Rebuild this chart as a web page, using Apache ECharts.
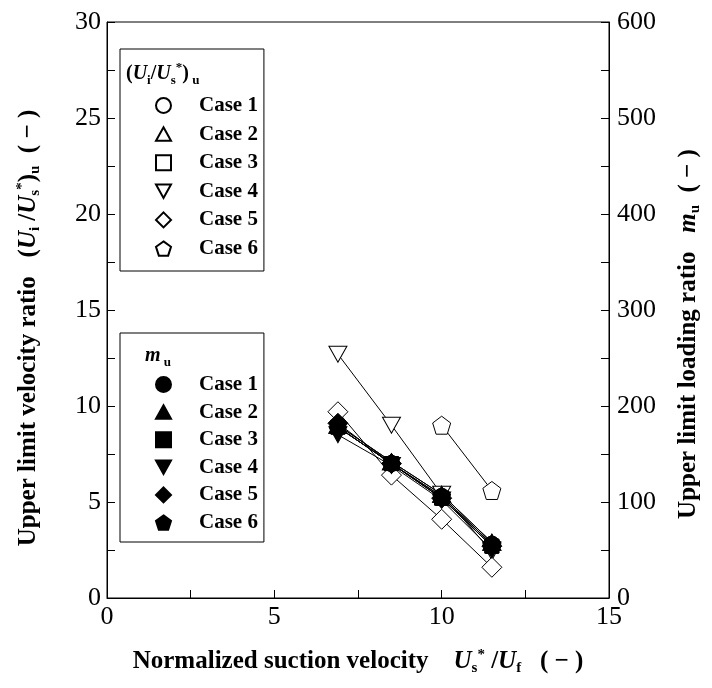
<!DOCTYPE html>
<html>
<head>
<meta charset="utf-8">
<script src="https://cdn.jsdelivr.net/npm/echarts@6/dist/echarts.min.js"></script>
<style>html,body{margin:0;padding:0;background:#fff}#c{width:712px;height:688px}</style>
</head>
<body>
<div id="c"></div>
<script>
// ---- data ----
const xVals = [6.9, 8.5, 10, 11.5];
const caseNames = ['Case 1', 'Case 2', 'Case 3', 'Case 4', 'Case 5', 'Case 6'];
// (Ui/Us*)u, left axis
const ratio1 = [8.9, 7.0, 5.3, 2.8];
const ratio2 = [9.0, 7.1, 5.4, 2.9];
const ratio3 = [8.9, 7.0, 5.2, 2.7];
const ratio4 = [12.7, 9.0, 5.4, 2.4];
const ratio5 = [9.7, 6.4, 4.1, 1.6];
const ratio6 = [null, null, 9.0, 5.6];
// m_u, right axis
const load1 = [178, 140, 106, 56];
const load2 = [180, 142, 108, 58];
const load3 = [178, 140, 104, 54];
const load4 = [170, 138, 102, 50];
const load5 = [182, 140, 104, 54];
const load6 = [null, null, 106, 56];
const xTicks = [0, 5, 10, 15];
const yTicks = [0, 5, 10, 15, 20, 25, 30];
const y2Ticks = [0, 100, 200, 300, 400, 500, 600];

const ratioSets = [ratio1, ratio2, ratio3, ratio4, ratio5, ratio6];
const loadSets = [load1, load2, load3, load4, load5, load6];

const symbols = [
  'circle',
  'path://M5,0L10,9L0,9Z',
  'path://M0,0L10,0L10,10L0,10Z',
  'path://M0,0L10,0L5,9Z',
  'path://M5,0L10,5L5,10L0,5Z',
  'path://M5,0L10,3.6L8.1,9.5L1.9,9.5L0,3.6Z'
];
const sizes = [16, [18, 16], 14, [18, 16], 20, 18];

const FONT = 'Liberation Serif';
const base = {fontFamily: FONT, fontWeight: 'bold', color: '#000'};
const rich = {
  n: Object.assign({}, base, {fontSize: 25, lineHeight: 28}),
  i: Object.assign({}, base, {fontSize: 25, lineHeight: 28, fontStyle: 'italic'}),
  sub: Object.assign({}, base, {fontSize: 15, lineHeight: 14, verticalAlign: 'bottom'}),
  sup: Object.assign({}, base, {fontSize: 15, lineHeight: 14, verticalAlign: 'top'})
};
const richL = {
  n: Object.assign({}, base, {fontSize: 20, lineHeight: 26}),
  i: Object.assign({}, base, {fontSize: 20, lineHeight: 26, fontStyle: 'italic'}),
  sub: Object.assign({}, base, {fontSize: 13, lineHeight: 12, verticalAlign: 'bottom'}),
  sup: Object.assign({}, base, {fontSize: 13, lineHeight: 12, verticalAlign: 'top'})
};

function pairs(arr) {
  const out = [];
  arr.forEach((v, i) => { if (v !== null) out.push([xVals[i], v]); });
  return out;
}

const series = [];
caseNames.forEach((nm, k) => {
  series.push({
    name: nm,
    type: 'line',
    yAxisIndex: 0,
    data: pairs(ratioSets[k]),
    symbol: symbols[k],
    symbolSize: sizes[k],
    showSymbol: true,
    itemStyle: {color: '#fff', borderColor: '#000', borderWidth: 1},
    lineStyle: {color: '#000', width: 1},
    z: 2
  });
});
caseNames.forEach((nm, k) => {
  series.push({
    name: nm + '\u200B',
    type: 'line',
    yAxisIndex: 1,
    data: pairs(loadSets[k]),
    symbol: symbols[k],
    symbolSize: sizes[k],
    showSymbol: true,
    itemStyle: {color: '#000', borderColor: '#000', borderWidth: 1},
    lineStyle: {color: '#000', width: 1},
    z: 3
  });
});

const legendText = {fontFamily: FONT, fontWeight: 'bold', fontSize: 21, lineHeight: 20, color: '#000', padding: [0, 0, 0, 23]};
function legendData(suffix) {
  return caseNames.map((nm, k) => ({name: nm + suffix, icon: symbols[k]}));
}

const chart = echarts.init(document.getElementById('c'), null, {renderer: 'canvas'});
chart.setOption({
  animation: false,
  backgroundColor: '#fff',
  grid: {left: 107, right: 103, top: 22, bottom: 90, show: true, borderColor: '#000', borderWidth: 1, backgroundColor: 'transparent'},
  title: [
    {text: '{n|(}{i|U}{sub|i}{n|/}{i|U}{sub|s}{sup|*}{n|)}{sub| u}', left: 126, top: 61, padding: 0, textStyle: {rich: richL}},
    {text: '{i|m}{sub| u}', left: 145, top: 343, padding: 0, textStyle: {rich: richL}}
  ],
  legend: [
    {
      orient: 'vertical', left: 120, top: 49,
      padding: [46, 6, 12, 35],
      itemWidth: 15, itemHeight: 15, itemGap: 7.6,
      borderColor: '#000', borderWidth: 1,
      selectedMode: false,
      data: legendData(''),
      textStyle: legendText,
      formatter: n => n.replace('\u200B', '')
    },
    {
      orient: 'vertical', left: 120, top: 333,
      padding: [41, 6, 9, 35],
      itemWidth: 15, itemHeight: 15, itemGap: 6.6,
      borderColor: '#000', borderWidth: 1,
      selectedMode: false,
      data: legendData('\u200B'),
      textStyle: legendText,
      formatter: n => n.replace('\u200B', '')
    }
  ],
  xAxis: {
    type: 'value', min: 0, max: 15, interval: 2.5,
    axisLine: {lineStyle: {color: '#000', width: 1}},
    axisTick: {inside: true, length: 8, lineStyle: {color: '#000'}},
    splitLine: {show: false},
    axisLabel: {
      color: '#000', fontFamily: FONT, fontSize: 26, margin: 6,
      formatter: v => xTicks.indexOf(v) >= 0 ? String(v) : ''
    },
    name: '{n|Normalized suction velocity    }{i|U}{sub|s}{sup|*}{n| /}{i|U}{sub|f}{n|   ( − )}',
    nameLocation: 'middle', nameGap: 50,
    nameTextStyle: {rich: rich, fontFamily: FONT, fontWeight: 'bold', fontSize: 25}
  },
  yAxis: [
    {
      type: 'value', min: 0, max: 30, interval: 2.5, position: 'left',
      axisLine: {show: true, lineStyle: {color: '#000', width: 1}},
      axisTick: {show: true, inside: true, length: 8, lineStyle: {color: '#000'}},
      splitLine: {show: false},
      axisLabel: {
        color: '#000', fontFamily: FONT, fontSize: 26, margin: 6,
        formatter: v => yTicks.indexOf(v) >= 0 ? String(v) : ''
      },
      name: '{n|Upper limit velocity ratio   (}{i|U}{sub|i}{n| /}{i|U}{sub|s}{sup|*}{n|)}{sub|u}{n|  ( − )}',
      nameLocation: 'middle', nameGap: 64, nameRotate: 90,
      nameTextStyle: {rich: rich, fontFamily: FONT, fontWeight: 'bold', fontSize: 25, padding: [0, 36, 0, 0]}
    },
    {
      type: 'value', min: 0, max: 600, interval: 50, position: 'right',
      axisLine: {show: true, lineStyle: {color: '#000', width: 1}},
      axisTick: {show: true, inside: true, length: 8, lineStyle: {color: '#000'}},
      splitLine: {show: false},
      axisLabel: {
        color: '#000', fontFamily: FONT, fontSize: 26, margin: 8,
        formatter: v => y2Ticks.indexOf(v) >= 0 ? String(v) : ''
      },
      name: '{n|Upper limit loading ratio   }{i|m}{sub|u}{n|  ( − )}',
      nameLocation: 'middle', nameGap: 66, nameRotate: 90,
      nameTextStyle: {rich: rich, fontFamily: FONT, fontWeight: 'bold', fontSize: 25, padding: [0, 48, 0, 0]}
    }
  ],
  series: series
});
</script>
</body>
</html>
